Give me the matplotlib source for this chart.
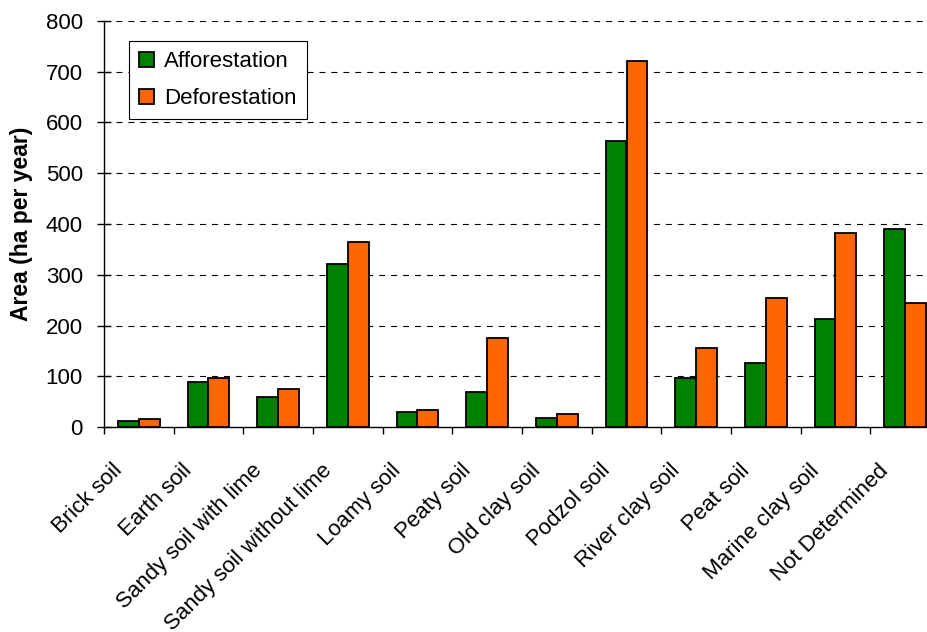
import matplotlib
matplotlib.use("Agg")
import matplotlib.pyplot as plt
import matplotlib.transforms as mtransforms
import numpy as np

plt.rcParams['font.family'] = ['Liberation Sans', 'DejaVu Sans']
plt.rcParams['lines.scale_dashes'] = False

categories = ["Brick soil", "Earth soil", "Sandy soil with lime", "Sandy soil without lime",
              "Loamy soil", "Peaty soil", "Old clay soil", "Podzol soil", "River clay soil",
              "Peat soil", "Marine clay soil", "Not Determined"]
afforestation = [11, 89, 60, 322, 30, 68, 18, 563, 97, 127, 213, 390]
deforestation = [15, 97, 74, 364, 34, 176, 25, 721, 156, 255, 382, 244]
yticks = [0, 100, 200, 300, 400, 500, 600, 700, 800]

W, H = 928, 632
fig = plt.figure(figsize=(W / 100, H / 100), dpi=100)
left, right, top, bottom = 104, 940, 21, 427
ax = fig.add_axes([left / W, 1 - bottom / H, (right - left) / W, (bottom - top) / H])

x = np.arange(len(categories))
w = 0.3
ax.bar(x - w/2, afforestation, w, color='#008000', edgecolor='black', linewidth=1.3,
       label='Afforestation', zorder=3)
ax.bar(x + w/2, deforestation, w, color='#FF6600', edgecolor='black', linewidth=1.3,
       label='Deforestation', zorder=3)

ax.set_xlim(-0.5, len(categories) - 0.5)
ax.set_ylim(0, 800)
ax.set_yticks(yticks)
ax.tick_params(axis='y', labelsize=16, direction='inout', length=9.4, width=1, pad=10.6)

# tick marks sit on the category boundaries, labels at the category centres
ax.set_xticks(np.arange(len(categories) + 1) - 0.5)
ax.set_xticklabels([])
ax.tick_params(axis='x', which='major', direction='out', length=5, width=1)
ax.set_xticks(x, minor=True)
ax.set_xticklabels(categories, minor=True, rotation=45, ha='right', va='top',
                   rotation_mode='anchor', fontsize=16)
ax.tick_params(axis='x', which='minor', length=0, pad=0)
shift = mtransforms.ScaledTranslation(-27 / 100, -33 / 100, fig.dpi_scale_trans)
for lbl in ax.get_xticklabels(minor=True):
    lbl.set_transform(lbl.get_transform() + shift)

for y in yticks[1:]:
    ax.axhline(y, color='black', linewidth=0.8, dashes=(4.3, 4.3), zorder=1)

for s in ['top', 'right']:
    ax.spines[s].set_visible(False)
ax.spines['left'].set_linewidth(1)
ax.spines['bottom'].set_linewidth(1)

ax.set_ylabel('Area (ha per year)', fontsize=16.5, fontweight='bold')
ax.yaxis.set_label_coords((33 - left) / (right - left), 0.5)

leg = ax.legend(loc='upper left', bbox_to_anchor=((129 - left) / (right - left), (bottom - 41) / (bottom - top)),
                borderaxespad=0, fontsize=16,
                frameon=True, fancybox=False, edgecolor='black', framealpha=1,
                handlelength=0.68, handleheight=0.68, handletextpad=0.45,
                labelspacing=0.72, borderpad=0.45)
leg.get_frame().set_linewidth(0.8)

fig.savefig('out.png', dpi=100)
